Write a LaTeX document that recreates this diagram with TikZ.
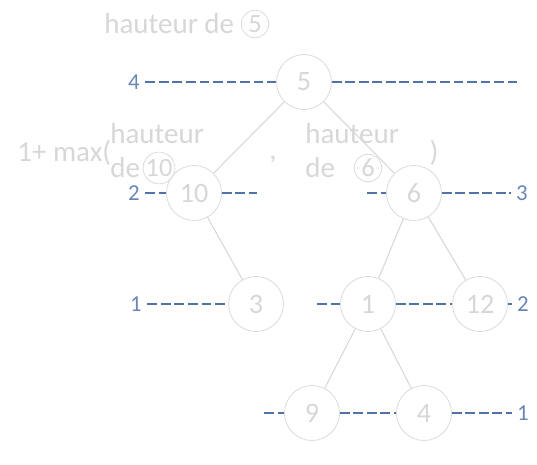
\documentclass[tikz,border=0pt]{standalone}
\usepackage{fontspec}
\setmainfont{Carlito}
\usetikzlibrary{positioning}
\definecolor{niveau}{RGB}{79,114,168}
\definecolor{pale}{RGB}{215,215,215}
\tikzset{
	noeud/.style={circle,draw=pale,fill=white,minimum size=1.1cm,inner sep=0pt,text=pale,font=\fontsize{16}{18}\selectfont},
	arete/.style={draw=pale,line width=0.6pt},
	tirets/.style={draw=niveau,line width=1.7pt,dash pattern=on 5.5pt off 2.2pt},
	niv/.style={text=niveau!85,inner sep=3pt,font=\fontsize{13}{14}\selectfont},
	texte/.style={text=pale,inner sep=0pt,font=\fontsize{16.5}{18}\selectfont},
	rond/.style={circle,draw=pale,text=pale,minimum size=0.55cm,inner sep=0pt,font=\fontsize{15}{16}\selectfont}
}
\begin{document}
\begin{tikzpicture}[x=0.02cm,y=-0.02cm]
	\useasboundingbox (0,0) rectangle (537,465);
	%arbre
	\node[noeud] (n5) at (304,82) {5};
	\node[noeud] (n10) at (194,193) {10};
	\node[noeud] (n6) at (414,193) {6};
	\node[noeud] (n3) at (256,304) {3};
	\node[noeud] (n1) at (368,304) {1};
	\node[noeud] (n12) at (480,304) {12};
	\node[noeud] (n9) at (312,413) {9};
	\node[noeud] (n4) at (424,413) {4};
	\draw[arete] (n5) -- (n10);
	\draw[arete] (n5) -- (n6);
	\draw[arete] (n10) -- (n3);
	\draw[arete] (n6) -- (n1);
	\draw[arete] (n6) -- (n12);
	\draw[arete] (n1) -- (n9);
	\draw[arete] (n1) -- (n4);

	%niveaux
	\node[niv] (h5) at (134,82) {4};
	\node[niv] (h10) at (134,193) {2};
	\node[niv] (h6) at (522,193) {3};
	\node[niv] (h3) at (136,304) {1};
	\node[niv] (h12) at (523,304) {2};
	\node[niv] (h4) at (523,413) {1};
	\coordinate (f5) at (520,82);
	\coordinate (f10) at (257,193);
	\coordinate (d6) at (367,193);
	\coordinate (d1) at (317,304);
	\coordinate (d9) at (264,413);
	\draw[tirets] (h5) -- (n5) -- (f5);
	\draw[tirets] (h10) -- (n10) -- (f10);
	\draw[tirets] (d6) -- (n6) -- (h6);
	\draw[tirets] (h3) -- (n3);
	\draw[tirets] (d1) -- (n1) -- (n12) -- (h12);
	\draw[tirets] (d9) -- (n9) -- (n4) -- (h4);

	%formule
	\node[texte,anchor=west] (titre) at (104,24) {hauteur de};
	\node[rond] (r5) at (255,24) {5};
	\node[texte,anchor=west] (unplus) at (17,153) {1+ max(};
	\node[texte,anchor=west] (hg) at (110,134) {hauteur};
	\node[texte,anchor=west] (dg) at (110,168) {de};
	\node[rond] (r10) at (159,168) {10};
	\node[texte] (virg) at (273,160) {,};
	\node[texte,anchor=west] (hd) at (305,134) {hauteur};
	\node[texte,anchor=west] (dd) at (305,168) {de};
	\node[rond] (r6) at (368,168) {6};
	\node[texte] (fin) at (434,153) {)};
\end{tikzpicture}
\end{document}
